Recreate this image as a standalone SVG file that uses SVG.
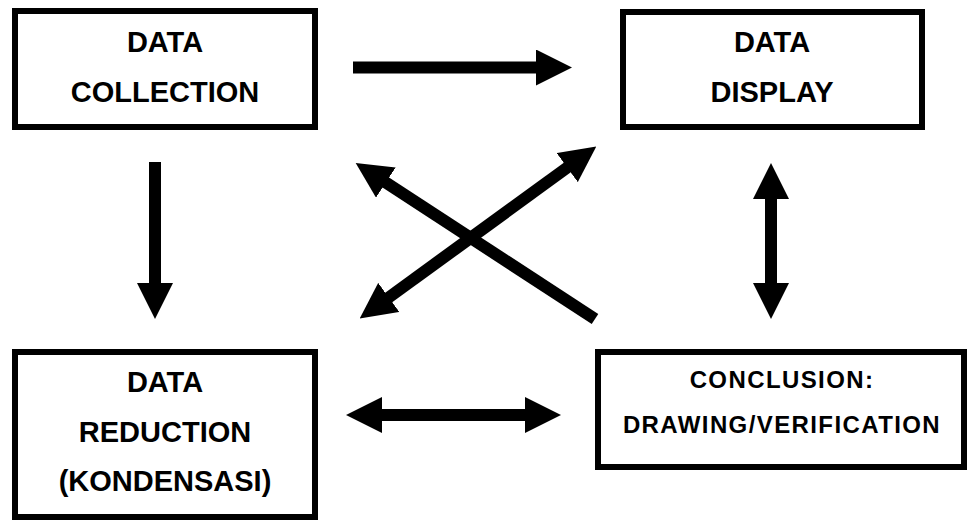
<svg xmlns="http://www.w3.org/2000/svg" width="967" height="521" viewBox="0 0 967 521">
  <defs>
    <style>
      .box { fill: #ffffff; stroke: #000000; stroke-width: 6; }
      .lbl { font-family: "Liberation Sans", Arial, sans-serif; font-weight: bold; font-size: 29px; fill: #000000; text-anchor: middle; }
      .lbl-s { font-size: 24px; letter-spacing: 1.4px; }
      .conn { stroke: #000000; stroke-width: 12; fill: none; }
    </style>
    <marker id="head" viewBox="0 0 36 36" markerUnits="userSpaceOnUse" markerWidth="36" markerHeight="36" refX="1" refY="18" orient="auto-start-reverse">
      <path d="M0,0 L36,18 L0,36 Z" fill="#000000"/>
    </marker>
  </defs>
  <rect width="967" height="521" fill="#ffffff"/>

  <g id="data-collection">
    <rect class="box" x="15" y="11" width="300" height="116"/>
    <text class="lbl" x="165" y="52">DATA</text>
    <text class="lbl" x="165" y="102">COLLECTION</text>
  </g>

  <g id="data-display">
    <rect class="box" x="623" y="12" width="299" height="115"/>
    <text class="lbl" x="772" y="52">DATA</text>
    <text class="lbl" x="772" y="102">DISPLAY</text>
  </g>

  <g id="data-reduction">
    <rect class="box" x="15" y="352" width="300" height="165"/>
    <text class="lbl" x="165" y="392">DATA</text>
    <text class="lbl" x="165" y="442">REDUCTION</text>
    <text class="lbl" x="165" y="491">(KONDENSASI)</text>
  </g>

  <g id="conclusion">
    <rect class="box" x="598" y="352" width="366" height="115"/>
    <text class="lbl lbl-s" x="782" y="388">CONCLUSION:</text>
    <text class="lbl lbl-s" x="782" y="433">DRAWING/VERIFICATION</text>
  </g>

  <g id="connectors">
    <line class="conn" x1="353" y1="67.5" x2="537" y2="67.5" marker-end="url(#head)"/>
    <line class="conn" x1="155" y1="162" x2="155" y2="284" marker-end="url(#head)"/>
    <line class="conn" x1="771" y1="198" x2="771" y2="284" marker-start="url(#head)" marker-end="url(#head)"/>
    <line class="conn" x1="381" y1="415" x2="526" y2="415" marker-start="url(#head)" marker-end="url(#head)"/>
    <line class="conn" x1="595" y1="319" x2="385" y2="182" marker-end="url(#head)"/>
    <line class="conn" x1="388" y1="298" x2="568" y2="167" marker-start="url(#head)" marker-end="url(#head)"/>
  </g>
</svg>
